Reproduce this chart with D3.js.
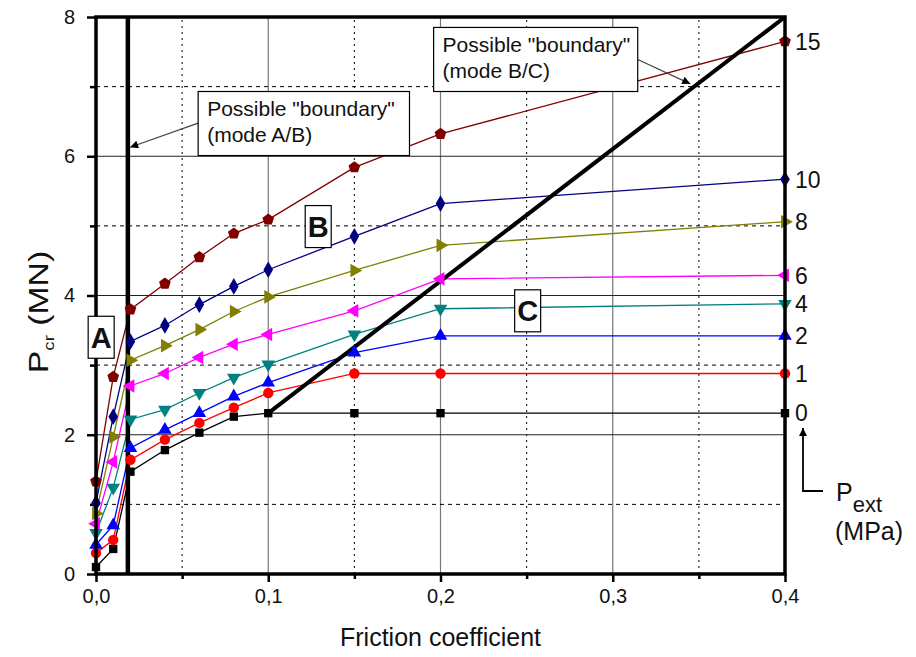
<!DOCTYPE html>
<html><head><meta charset="utf-8">
<script src="https://cdn.jsdelivr.net/npm/d3@7/dist/d3.min.js"></script>
<style>body{margin:0;background:#fff}text{font-family:Arial,"Liberation Sans",sans-serif}</style>
</head><body>
<svg id="chart" width="916" height="657"></svg>
<script>
// ---- data ----
const frictionCoef = [0, 0.01, 0.02, 0.04, 0.06, 0.08, 0.1, 0.15, 0.2, 0.4];
const pextLabels = ["0", "1", "2", "4", "6", "8", "10", "15"];
const pcr0  = [0.10, 0.36, 1.47, 1.78, 2.03, 2.26, 2.31, 2.31, 2.31, 2.31];
const pcr1  = [0.30, 0.49, 1.64, 1.93, 2.17, 2.39, 2.60, 2.88, 2.88, 2.88];
const pcr2  = [0.42, 0.70, 1.81, 2.07, 2.31, 2.55, 2.75, 3.18, 3.42, 3.42];
const pcr4  = [0.59, 1.24, 2.22, 2.36, 2.60, 2.82, 3.01, 3.44, 3.81, 3.88];
const pcr6  = [0.72, 1.61, 2.70, 2.88, 3.11, 3.30, 3.44, 3.78, 4.24, 4.29];
const pcr8  = [0.87, 1.97, 3.07, 3.28, 3.51, 3.77, 3.98, 4.36, 4.72, 5.06];
const pcr10 = [1.02, 2.26, 3.34, 3.57, 3.87, 4.13, 4.37, 4.85, 5.32, 5.67];
const pcr15 = [1.33, 2.83, 3.80, 4.17, 4.55, 4.89, 5.09, 5.84, 6.32, 7.65];
const seriesValues = [pcr0, pcr1, pcr2, pcr4, pcr6, pcr8, pcr10, pcr15];
const xMajorTicks = [0, 0.1, 0.2, 0.3, 0.4];
const xMinorTicks = [0.05, 0.15, 0.25, 0.35];
const yMajorTicks = [0, 2, 4, 6, 8];
const yMinorTicks = [1, 3, 5, 7];
const boundaryAB = [[0.0185, 0], [0.0185, 8]];
const boundaryBC = [[0.1, 2.31], [0.4, 8]];

// ---- styles ----
const colors = ["#000000", "#ff0000", "#0000ff", "#008080", "#ff00ff", "#808000", "#000080", "#800000"];
const symbolKinds = ["square", "circle", "up", "down", "left", "right", "diamond", "pentagon"];

const svg = d3.select("#chart");
const x = d3.scaleLinear([0, 0.4], [96, 785]);
const y = d3.scaleLinear([0, 8], [574, 17]);

// grid
const g = svg.append("g");
g.selectAll(".vmin").data(xMinorTicks).join("line")
  .attr("x1", d => x(d)).attr("x2", d => x(d)).attr("y1", y(0)).attr("y2", y(8))
  .attr("stroke", "#000").attr("stroke-width", 1).attr("stroke-dasharray", "2,4");
g.selectAll(".vmaj").data(xMajorTicks.slice(1, -1)).join("line")
  .attr("x1", d => x(d)).attr("x2", d => x(d)).attr("y1", y(0)).attr("y2", y(8))
  .attr("stroke", "#777").attr("stroke-width", 1.2);
g.selectAll(".hmin").data(yMinorTicks).join("line")
  .attr("x1", x(0)).attr("x2", x(0.4)).attr("y1", d => y(d)).attr("y2", d => y(d))
  .attr("stroke", "#000").attr("stroke-width", 1).attr("stroke-dasharray", "4,4");
g.selectAll(".hmaj").data(yMajorTicks.slice(1, -1)).join("line")
  .attr("x1", x(0)).attr("x2", x(0.4)).attr("y1", d => y(d)).attr("y2", d => y(d))
  .attr("stroke", "#222").attr("stroke-width", 1.2);

// axes
const fmtX = d => d3.format(".1f")(d).replace(".", ",");
const xAx = svg.append("g").attr("transform", `translate(0,${y(0)})`)
  .call(d3.axisBottom(x).tickValues(xMajorTicks).tickFormat(fmtX).tickSize(8).tickPadding(7));
const xAxMin = svg.append("g").attr("transform", `translate(0,${y(0)})`)
  .call(d3.axisBottom(x).tickValues(xMinorTicks).tickFormat("").tickSize(5));
const yAx = svg.append("g").attr("transform", `translate(${x(0)},0)`)
  .call(d3.axisLeft(y).tickValues(yMajorTicks).tickFormat(d3.format("d")).tickSize(9).tickPadding(12));
const yAxMin = svg.append("g").attr("transform", `translate(${x(0)},0)`)
  .call(d3.axisLeft(y).tickValues(yMinorTicks).tickFormat("").tickSize(6));
[xAx, xAxMin, yAx, yAxMin].forEach(a => {
  a.select(".domain").remove();
  a.selectAll(".tick line").attr("stroke", "#000").attr("stroke-width", 2.5);
  a.selectAll("text").attr("font-size", 20).attr("fill", "#111")
   .style("font-family", "Arial, 'Liberation Sans', sans-serif");
});

// series lines
const line = d3.line().x((d, i) => x(frictionCoef[i])).y(d => y(d));
const series = svg.append("g");
seriesValues.forEach((vals, k) => {
  series.append("path").attr("d", line(vals)).attr("fill", "none")
    .attr("stroke", colors[k]).attr("stroke-width", 1.3);
});

// boundary lines
const bline = d3.line().x(d => x(d[0])).y(d => y(d[1]));
svg.append("path").attr("d", bline(boundaryAB)).attr("stroke", "#000").attr("stroke-width", 4.5).attr("fill", "none");
svg.append("path").attr("d", bline(boundaryBC)).attr("stroke", "#000").attr("stroke-width", 4).attr("fill", "none");

// markers
const pentagon = {draw(ctx, size) {
  const r = Math.sqrt(size / (2.5 * Math.sin(2 * Math.PI / 5)));
  for (let i = 0; i < 5; i++) {
    const a = -Math.PI / 2 + i * 2 * Math.PI / 5;
    i ? ctx.lineTo(r * Math.cos(a), r * Math.sin(a)) : ctx.moveTo(r * Math.cos(a), r * Math.sin(a));
  }
  ctx.closePath();
}};
function symbolPath(kind) {
  if (kind === "square") return {d: d3.symbol(d3.symbolSquare, 70)(), rot: 0};
  if (kind === "circle") return {d: d3.symbol(d3.symbolCircle, 85)(), rot: 0};
  if (kind === "diamond") return {d: d3.symbol(d3.symbolDiamond, 80)(), rot: 0};
  if (kind === "pentagon") return {d: d3.symbol(pentagon, 90)(), rot: 0};
  const rot = {up: 0, down: 180, left: -90, right: 90}[kind];
  return {d: d3.symbol(d3.symbolTriangle, 80)(), rot};
}
const marks = svg.append("g");
seriesValues.forEach((vals, k) => {
  const s = symbolPath(symbolKinds[k]);
  marks.selectAll(null).data(vals).join("path")
    .attr("d", s.d)
    .attr("transform", (d, i) => `translate(${x(frictionCoef[i])},${y(d)}) rotate(${s.rot})`)
    .attr("fill", colors[k]);
});

// frame
svg.append("rect").attr("x", x(0)).attr("y", y(8)).attr("width", x(0.4) - x(0)).attr("height", y(0) - y(8))
  .attr("fill", "none").attr("stroke", "#000").attr("stroke-width", 3.5);

// axis titles
svg.append("text").attr("x", (x(0) + x(0.4)) / 2).attr("y", 646).attr("text-anchor", "middle")
  .attr("font-size", 25).attr("fill", "#111").text("Friction coefficient");
const yt = svg.append("text").attr("transform", "translate(48,312) rotate(-90) scale(1.25,1)").attr("text-anchor", "middle")
  .attr("font-size", 27).attr("fill", "#111");
yt.append("tspan").text("P");
yt.append("tspan").attr("font-size", 15).attr("dy", 6).text("cr");
yt.append("tspan").attr("dy", -6).text(" (MN)");

// right labels
seriesValues.forEach((vals, k) => {
  svg.append("text").attr("x", 795).attr("y", y(vals[vals.length - 1])).attr("dy", "0.36em")
    .attr("font-size", 23).attr("fill", "#111").text(pextLabels[k]);
});

// arrow markers
const defs = svg.append("defs");
defs.append("marker").attr("id", "ah").attr("viewBox", "0 0 10 10").attr("refX", 10).attr("refY", 5)
  .attr("markerWidth", 10).attr("markerHeight", 8).attr("markerUnits", "userSpaceOnUse").attr("orient", "auto")
  .append("path").attr("d", "M0,0 L10,5 L0,10 Z").attr("fill", "#000");
defs.append("marker").attr("id", "ah2").attr("viewBox", "0 0 10 10").attr("refX", 10).attr("refY", 5)
  .attr("markerWidth", 14).attr("markerHeight", 8).attr("markerUnits", "userSpaceOnUse").attr("orient", "auto")
  .append("path").attr("d", "M0,0 L10,5 L0,10 Z").attr("fill", "#000");

// P_ext arrow
svg.append("path").attr("d", `M823,491 L803,491 L803,428`).attr("fill", "none")
  .attr("stroke", "#000").attr("stroke-width", 1.8).attr("marker-end", "url(#ah)");
const pe = svg.append("text").attr("x", 836).attr("y", 501).attr("font-size", 25).attr("fill", "#111");
pe.append("tspan").text("P");
pe.append("tspan").attr("font-size", 22).attr("dy", 11).text("ext");
svg.append("text").attr("x", 835).attr("y", 540).attr("font-size", 25).attr("fill", "#111").text("(MPa)");

// callout boxes
function callout(bx0, by0, bx1, by1, lines, from, to) {
  svg.append("line").attr("x1", x(from[0])).attr("y1", y(from[1])).attr("x2", x(to[0])).attr("y2", y(to[1]))
    .attr("stroke", "#444").attr("stroke-width", 1.2).attr("marker-end", "url(#ah2)");
  svg.append("rect").attr("x", x(bx0)).attr("y", y(by0)).attr("width", x(bx1) - x(bx0)).attr("height", y(by1) - y(by0))
    .attr("fill", "#fff").attr("stroke", "#000").attr("stroke-width", 1.2);
  lines.forEach((t, i) => svg.append("text").attr("x", x(bx0) + 9).attr("y", y(by0) + 25 + i * 26)
    .attr("font-size", 21).attr("fill", "#111").text(t));
}
callout(0.0593, 6.93, 0.182, 6.01, ['Possible "boundary"', '(mode A/B)'], [0.0593, 6.475], [0.0198, 6.13]);
callout(0.196, 7.85, 0.3145, 6.93, ['Possible "boundary"', '(mode B/C)'], [0.3145, 7.39], [0.345, 7.04]);

// mode letters
function modeLabel(cx, cy, t) {
  const w = 26, h = 42;
  svg.append("rect").attr("x", x(cx) - w / 2).attr("y", y(cy) - h / 2).attr("width", w).attr("height", h)
    .attr("fill", "#fff").attr("stroke", "#000").attr("stroke-width", 1.2);
  svg.append("text").attr("x", x(cx)).attr("y", y(cy)).attr("dy", "0.36em").attr("text-anchor", "middle")
    .attr("font-size", 29).attr("font-weight", "bold").attr("fill", "#111").text(t);
}
modeLabel(0.003, 3.40, "A");
modeLabel(0.129, 4.99, "B");
modeLabel(0.2506, 3.78, "C");
</script>
</body></html>
